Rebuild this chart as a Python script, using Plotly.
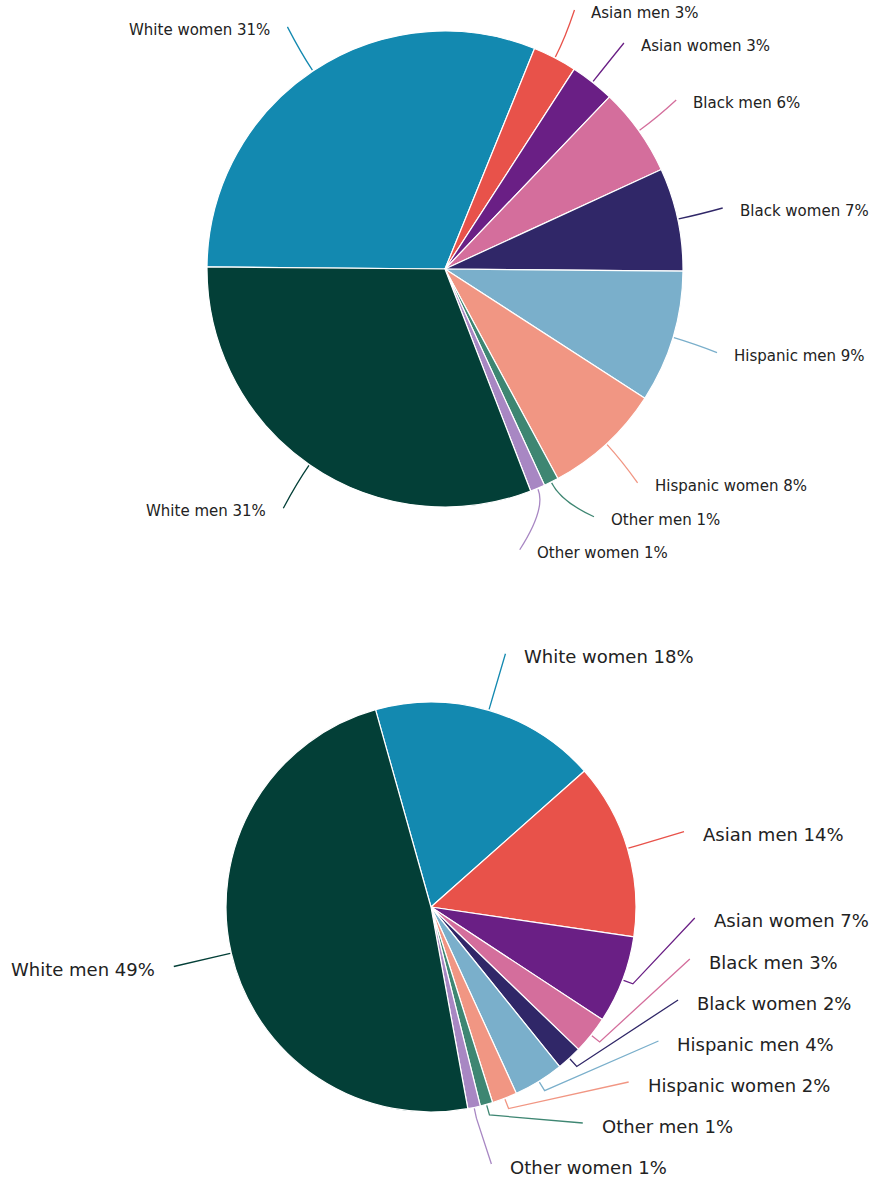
import math
import plotly.graph_objects as go

W, H = 882, 1182

# ---- data -------------------------------------------------------------
groups = ["White women", "Asian men", "Asian women", "Black men", "Black women",
          "Hispanic men", "Hispanic women", "Other men", "Other women", "White men"]
share_top = [31, 3, 3, 6, 7, 9, 8, 1, 1, 31]
share_bottom = [18, 14, 7, 3, 2, 4, 2, 1, 1, 49]

# ---- styling ----------------------------------------------------------
colors = ["#1389b0", "#e8524a", "#6a1f85", "#d46e9c", "#302768",
          "#7aafcb", "#f19683", "#3e8672", "#a887c3", "#033f37"]

# geometry of each pie in pixels, plus label-ring settings
pies = [
    dict(values=share_top, cx=445, cy=269, r=238, rotation=-89.5,
         rx=284, ry=291, gap=33, lo=10, hi=560, font=15, pad=15,
         elbow=22, curved=True),
    dict(values=share_bottom, cx=431, cy=907, r=205, rotation=-15.7,
         rx=264, ry=264, gap=41, lo=650, hi=1164, font=18, pad=17,
         elbow=11, curved=False),
]


def px(x):
    return x / W


def py(y):
    return 1 - y / H


def spread(ideal, gap, lo, hi):
    """Push sorted label positions apart so neighbours are at least `gap` apart."""
    n = len(ideal)
    clusters = [[i] for i in range(n)]

    def place(c):
        start = sum(ideal[m] - k * gap for k, m in enumerate(c)) / len(c)
        return max(lo, min(start, hi - (len(c) - 1) * gap))

    merged = True
    while merged:
        merged = False
        for i in range(len(clusters) - 1):
            a, b = clusters[i], clusters[i + 1]
            if place(a) + len(a) * gap > place(b):
                clusters[i] = a + b
                del clusters[i + 1]
                merged = True
                break
    out = [0.0] * n
    for c in clusters:
        s = place(c)
        for k, m in enumerate(c):
            out[m] = s + k * gap
    return out


fig = go.Figure()
shapes = []
annotations = []

for p in pies:
    vals = p["values"]
    cx, cy, r = p["cx"], p["cy"], p["r"]
    fig.add_trace(go.Pie(
        values=vals, labels=groups, sort=False, direction="clockwise",
        rotation=p["rotation"], textinfo="none", hoverinfo="label+percent",
        marker=dict(colors=colors, line=dict(color="white", width=1.2)),
        domain=dict(x=[px(cx - r), px(cx + r)], y=[py(cy + r), py(cy - r)]),
        showlegend=False,
    ))

    total = sum(vals)
    mids = []
    acc = 0.0
    for v in vals:
        mids.append(p["rotation"] + 360.0 * (acc + v / 2) / total)
        acc += v

    # split labels into right/left halves and de-overlap each side
    ends = {}
    for side in (1, -1):
        idx = [i for i, a in enumerate(mids)
               if (math.sin(math.radians(a)) >= 0) == (side == 1)]
        idx.sort(key=lambda i: cy - p["ry"] * math.cos(math.radians(mids[i])))
        ideal = [cy - p["ry"] * math.cos(math.radians(mids[i])) for i in idx]
        ys = spread(ideal, p["gap"], p["lo"], p["hi"])
        for i, y in zip(idx, ys):
            t = max(0.0, 1 - ((y - cy) / p["ry"]) ** 2)
            ends[i] = (cx + side * p["rx"] * math.sqrt(t), y, side)

    for i, a in enumerate(mids):
        th = math.radians(a)
        sx, sy = math.sin(th), -math.cos(th)
        x0, y0 = cx + (r + 1) * sx, cy + (r + 1) * sy
        x1, y1 = cx + (r + p["elbow"]) * sx, cy + (r + p["elbow"]) * sy
        x2, y2, side = ends[i]
        if p["curved"]:
            path = (f"M {px(x0)},{py(y0)} Q {px(x1)},{py(y1)} "
                    f"{px(x2)},{py(y2)}")
        else:
            path = (f"M {px(x0)},{py(y0)} L {px(x1)},{py(y1)} "
                    f"L {px(x2)},{py(y2)}")
        shapes.append(dict(type="path", path=path, xref="paper", yref="paper",
                           line=dict(color=colors[i], width=1.3)))
        annotations.append(dict(
            x=px(x2 + side * p["pad"]), y=py(y2 + 3), xref="paper", yref="paper",
            text=f"{groups[i]} {vals[i]}%", showarrow=False,
            xanchor="left" if side == 1 else "right", yanchor="middle",
            font=dict(family="DejaVu Sans", size=p["font"], color="#222222"),
        ))

fig.update_layout(
    width=W, height=H, margin=dict(l=0, r=0, t=0, b=0),
    paper_bgcolor="white", plot_bgcolor="white",
    shapes=shapes, annotations=annotations,
)

fig.write_html("out.html")
